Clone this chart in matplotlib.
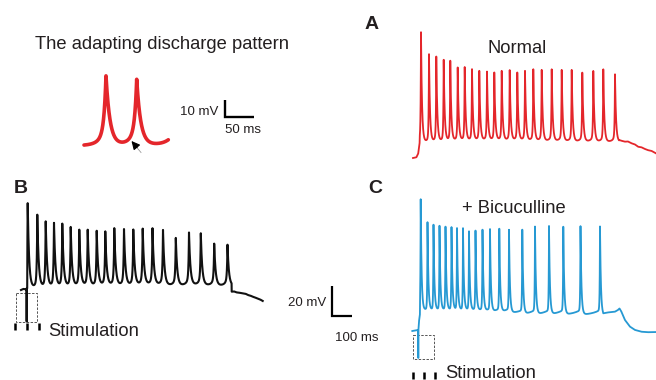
import numpy as np
import matplotlib
matplotlib.use('Agg')
import matplotlib.pyplot as plt
from matplotlib.patches import Rectangle

plt.rcParams['font.family'] = ['Liberation Sans', 'DejaVu Sans']

W, H = 656, 380
PX_MS, PX_MV = 0.2, 1.5           # main traces: 100 ms = 20 px, 20 mV = 30 px
IN_PX_MS, IN_PX_MV = 0.574, 1.67  # inset: 50 ms, 10 mV

RED = '#E4262B'
BLUE = '#2699D3'
TXT = '#231F20'

# ---- inset: two adapting spikes (ms, mV)
inset_spike_t = [38.3, 91.8]
inset_peak = [-19.3, -21.3]
inset_floor = [-61, -60.5]
inset_end = 147

# ---- A: normal (ms, mV)
a_spike_t = [40, 80, 116.5, 153.5, 186.5, 223.5, 258.5, 295, 331.5, 370, 406.5, 443.5,
             483.5, 521.5, 560, 601.5, 643.5, 693.5, 743.5, 793.5, 846.5, 901.5, 951.5, 1010]
a_peak = [18.8, 4.1, 2.5, 0.3, -0.3, -4.8, -4.5, -5.9, -7.0, -7.5, -8.1, -7.0,
          -6.5, -8.1, -7.0, -5.9, -6.3, -5.9, -6.3, -6.3, -8.1, -7.0, -5.9, -9.2]
a_floor = [-54.5, -54.5, -54, -54, -53.8, -53.5, -53.5, -53.5, -53.3, -53.3, -53.3, -53.3,
           -53.3, -53.3, -53.3, -53.5, -53.5, -53.5, -53.5, -53.8, -53.8, -53.8, -54, -54]
a_pre_t = [0, 17, 26, 33]
a_pre_v = [-65, -64.5, -62, -55]
a_tail_t = [1031, 1045, 1060, 1075, 1093, 1110, 1126, 1143, 1160, 1176, 1193, 1205, 1215]
a_tail_v = [-53, -53.6, -54.1, -54.0, -55.2, -56.0, -57.5, -57.9, -59, -59.8, -60.3, -61.2, -61.9]

# ---- B: stimulation (ms, mV)
b_spike_t = [33.5, 81.5, 123.5, 165, 206.5, 248.5, 291.5, 333.5, 378.5, 421.5, 466.5,
             515, 561.5, 608.5, 657.5, 710, 774, 840, 899, 966, 1032.5]
b_peak = [-7.2, -15, -19.5, -20.5, -21, -23.2, -25, -25, -25.7, -26.1, -23.9,
          -24.5, -24.8, -24.2, -23.9, -25, -30.3, -26.7, -27.2, -34.1, -34.8]
b_floor = [-64, -63.5, -63.5, -63, -63, -63, -62.5, -62.5, -62.5, -62, -62,
           -62, -62, -61.5, -61.5, -61.5, -62, -61.5, -61.5, -62, -62]
b_pre_t = [0, 12, 24, 28, 28.3, 28.6, 31]
b_pre_v = [-65, -64.3, -64.5, -64, -86, -64.5, -63.8]
b_tail_t = [1053.5, 1066, 1078.5, 1095, 1111.5, 1124, 1136.5, 1149, 1161.5, 1174, 1186.5, 1198, 1208.5]
b_tail_v = [-66.1, -66.0, -66.6, -66.9, -67.3, -67.6, -68.4, -68.9, -69.6, -70.2, -70.9, -71.5, -72.3]

# ---- C: + bicuculline (ms, mV)
c_spike_t = [42, 76, 106, 136, 166, 196, 223.5, 253.5, 283.5, 316, 351, 388.5, 435,
             483.5, 550, 613.5, 683.5, 755, 841, 938.5]
c_peak = [21.2, 5.7, 4.0, 3.3, 2.7, 2.3, 1.7, 1.7, -0.3, 0.3, 1.0, 1.7, 2.0,
          1.7, 1.7, 3.9, 4.3, 4.0, 4.5, 4.7]
c_floor = [-53.5] * 14 + [-54.5, -54.5, -54.5, -54.5, -54.5, -54.5]
c_pre_t = [0, 27, 29.5, 30, 30.5, 34, 38]
c_pre_v = [-65, -64.3, -64.3, -83, -64.5, -58, -54]
c_tail_t = [955, 980, 1000, 1013.5, 1028, 1036, 1045, 1063.5, 1088.5, 1113.5, 1147, 1180, 1218.5]
c_tail_v = [-53.2, -52.6, -52.3, -52.1, -51, -50, -52, -57.7, -62.1, -64.3, -65.5, -65.8, -65.7]


def make_wave(t, times, peaks, floors, tau_up, tau_down, ramp, tau_ramp, ramp_to=None):
    # spikes on top of a floor with a slow depolarising ramp before each spike
    if ramp_to is None:
        ramp_to = times
    base = np.interp(t, times, floors)
    prev = -np.inf
    for tr in ramp_to:
        m = (t > prev) & (t < tr)
        base[m] += ramp * np.exp((t[m] - tr) / tau_ramp)
        prev = tr
    v = base.copy()
    for ti, pk, fl in zip(times, peaks, floors):
        s = t - ti
        up = (pk - fl - ramp) * np.exp(np.minimum(s, 0) / tau_up)
        down = (pk - fl) * np.exp(-np.maximum(s, 0) / tau_down)
        v += np.where(s < 0, up, down)
    return v


fig = plt.figure(figsize=(W / 100, H / 100), dpi=100)


def trace_axes(x0, y_rest, v_rest, t_span, px_ms, px_mv, v_lo=-100, v_hi=40):
    top = y_rest - (v_hi - v_rest) * px_mv
    bot = y_rest + (v_rest - v_lo) * px_mv
    ax = fig.add_axes([x0 / W, 1 - bot / H, t_span * px_ms / W, (bot - top) / H])
    ax.set_xlim(0, t_span)
    ax.set_ylim(v_lo, v_hi)
    ax.axis('off')
    return ax


def full_trace(pre_t, pre_v, times, peaks, floors, tail_t, tail_v, **kw):
    t = np.arange(pre_t[-1] + 0.5, tail_t[0] - 0.5, 0.1)
    v = make_wave(t, times, peaks, floors, **kw)
    return np.concatenate([pre_t, t, tail_t]), np.concatenate([pre_v, v, tail_v])


# overlay in pixel units for labels, boxes, scale bars
ax0 = fig.add_axes([0, 0, 1, 1])
ax0.set_xlim(0, W)
ax0.set_ylim(H, 0)
ax0.axis('off')

# inset trace
ax_in = trace_axes(84, 144, -60, inset_end, IN_PX_MS, IN_PX_MV)
t_in = np.arange(0, inset_end, 0.1)
v_in = make_wave(t_in, inset_spike_t, inset_peak, inset_floor, 3.5, 7, 9, 12,
                 ramp_to=inset_spike_t + [160])
ax_in.plot(t_in, v_in, color=RED, lw=2.6, solid_capstyle='round', clip_on=False)

# A
ax_a = trace_axes(413, 158, -65, a_tail_t[-1], PX_MS, PX_MV)
ta, va = full_trace(a_pre_t, a_pre_v, a_spike_t, a_peak, a_floor, a_tail_t, a_tail_v,
                    tau_up=1.8, tau_down=5, ramp=4, tau_ramp=10)
ax_a.plot(ta, va, color=RED, lw=1.3, clip_on=False)

# B
ax_b = trace_axes(21, 290, -65, b_tail_t[-1], PX_MS, PX_MV)
tb, vb = full_trace(b_pre_t, b_pre_v, b_spike_t, b_peak, b_floor, b_tail_t, b_tail_v,
                    tau_up=2.5, tau_down=7, ramp=5, tau_ramp=12)
ax_b.plot(tb, vb, color='#111111', lw=1.5, clip_on=False)

# C
ax_c = trace_axes(412.3, 331, -65, c_tail_t[-1], PX_MS, PX_MV)
tc, vc = full_trace(c_pre_t, c_pre_v, c_spike_t, c_peak, c_floor, c_tail_t, c_tail_v,
                    tau_up=1.5, tau_down=4.5, ramp=3.5, tau_ramp=45)
ax_c.plot(tc, vc, color=BLUE, lw=1.3, clip_on=False)

# arrow in the inset
ax0.plot([136, 141], [146.5, 152.5], color='#9a9a9a', lw=0.6)
ax0.annotate('', xy=(131.5, 141), xytext=(137, 147.5),
             arrowprops=dict(arrowstyle='-|>,head_length=0.5,head_width=0.25',
                             color='black', lw=0.8, shrinkA=0, shrinkB=0))

# scale bars
def scale_bar(x, y, len_ms, len_mv, px_ms, px_mv, lw):
    ax0.plot([x, x, x + len_ms * px_ms], [y - len_mv * px_mv, y, y],
             color='black', lw=lw, solid_joinstyle='miter', solid_capstyle='butt')

scale_bar(225.3, 116.7, 50, 10, IN_PX_MS, IN_PX_MV, 1.7)
scale_bar(332, 316, 100, 20, PX_MS, PX_MV, 1.6)

# stimulation boxes and ticks
for (bx, by, bw, bh), xs, (ty0, ty1) in [((16, 293.3, 21.3, 28.4), [15.3, 27, 38.7], (322.7, 330)),
                                         ((412.5, 334.5, 21.5, 24.5), [413, 424, 435], (372, 379))]:
    ax0.add_patch(Rectangle((bx, by), bw, bh, fill=False, ec='#555555', lw=0.7,
                            ls=(0, (2.5, 1.5))))
    for x in xs:
        ax0.plot([x, x], [ty0, ty1], color='black', lw=1.8, solid_capstyle='butt')

# texts
fs = 13.25
ax0.text(35, 49.3, 'The adapting discharge pattern', fontsize=fs, color=TXT, va='baseline')
ax0.text(487.3, 53.3, 'Normal', fontsize=fs, color=TXT, va='baseline')
ax0.text(461.7, 212.7, '+ Bicuculline', fontsize=fs, color=TXT, va='baseline')
ax0.text(48.3, 335.7, 'Stimulation', fontsize=fs, color=TXT, va='baseline')
ax0.text(445, 377.5, 'Stimulation', fontsize=fs, color=TXT, va='baseline')
for lab, x, y in [('A', 372, 29), ('B', 21, 193.3), ('C', 375, 193)]:
    ax0.text(x, y, lab, fontsize=14, fontweight='bold', color=TXT, ha='center', va='baseline')
ax0.text(218, 115, '10 mV', fontsize=9.5, color=TXT, ha='right', va='baseline')
ax0.text(225, 133, '50 ms', fontsize=9.5, color=TXT, va='baseline')
ax0.text(326.7, 305.7, '20 mV', fontsize=9.5, color=TXT, ha='right', va='baseline')
ax0.text(335, 341, '100 ms', fontsize=9.5, color=TXT, va='baseline')

fig.savefig('out.png', dpi=100)
